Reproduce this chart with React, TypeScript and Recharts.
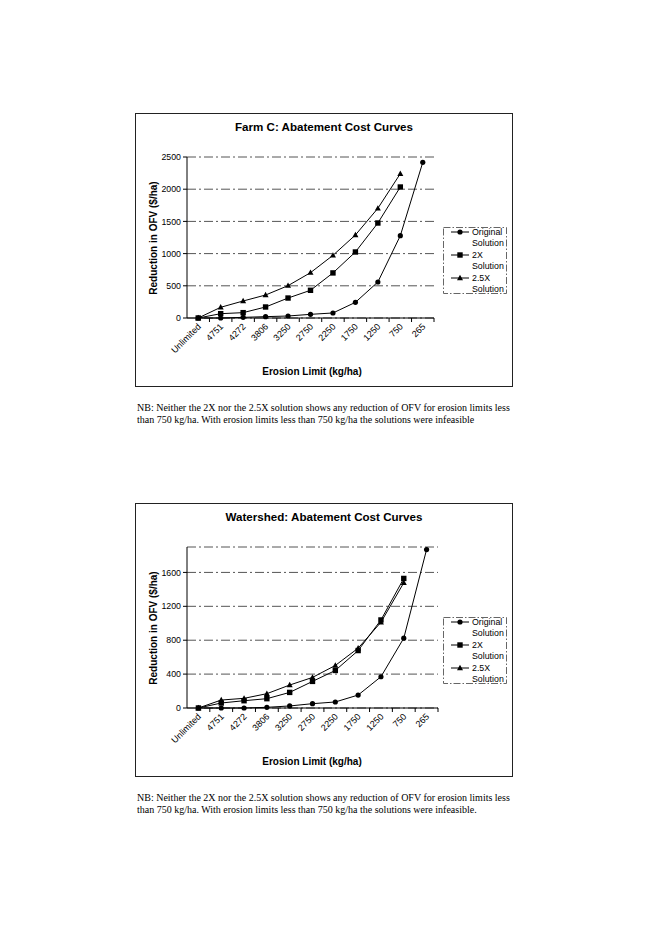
import React from "react";
import { CartesianGrid, Line, LineChart, XAxis, YAxis } from "recharts";

// erosion limit categories (kg/ha), shared by both charts
const limits = ["Unlimited", "4751", "4272", "3806", "3250", "2750", "2250", "1750", "1250", "750", "265"];

// Farm C
const farmOriginal = [0, 0, 10, 21, 31, 57, 78, 243, 559, 1278, 2417];
const farm2x = [0, 67, 83, 171, 310, 430, 700, 1025, 1475, 2034, null];
const farm25x = [0, 166, 264, 357, 502, 704, 973, 1289, 1703, 2241, null];
const farmTicks = [0, 500, 1000, 1500, 2000, 2500];

// Watershed
const shedOriginal = [0, 0, 0, 8, 24, 51, 71, 153, 369, 824, 1870];
const shed2x = [0, 59, 86, 110, 184, 314, 443, 678, 1039, 1529, null];
const shed25x = [0, 94, 114, 169, 271, 361, 502, 706, 1012, 1478, null];
const shedTicks = [0, 400, 800, 1200, 1600];

const legendLabels = [
  ["Original", "Solution"],
  ["2X", "Solution"],
  ["2.5X", "Solution"],
];

const SANS = "'Liberation Sans', Arial, sans-serif";
const SERIF = "'Liberation Serif', 'Times New Roman', serif";

type Series = (number | null)[];

function buildRows(orig: Series, x2: Series, x25: Series) {
  return limits.map((limit, i) => ({ limit, orig: orig[i], x2: x2[i], x25: x25[i] }));
}

function CircleDot(props: any) {
  const { cx, cy, index } = props;
  if (cx == null || cy == null) return <g key={`c-${index}`} />;
  return <circle key={`c-${index}`} cx={cx} cy={cy} r={2.6} fill="#000" />;
}

function SquareDot(props: any) {
  const { cx, cy, index } = props;
  if (cx == null || cy == null) return <g key={`s-${index}`} />;
  return <rect key={`s-${index}`} x={cx - 2.7} y={cy - 2.7} width={5.4} height={5.4} fill="#000" />;
}

function TriangleDot(props: any) {
  const { cx, cy, index } = props;
  if (cx == null || cy == null) return <g key={`t-${index}`} />;
  return (
    <polygon
      key={`t-${index}`}
      points={`${cx},${cy - 3.2} ${cx + 3},${cy + 2.2} ${cx - 3},${cy + 2.2}`}
      fill="#000"
    />
  );
}

function CategoryTick(props: any) {
  const { x, y, payload } = props;
  const half = payload?.offset ?? 11;
  return (
    <g>
      <line x1={x + half} x2={x + half} y1={y} y2={y + 4} stroke="#000" strokeWidth={1} />
      <text
        transform={`translate(${x + 1},${y + 7}) rotate(-45)`}
        textAnchor="end"
        dy="0.35em"
        fontSize={9}
        fontFamily={SANS}
        fill="#000"
      >
        {payload.value}
      </text>
    </g>
  );
}

function LegendBox() {
  const markers = [
    <circle cx={17} cy={0} r={2.6} fill="#000" />,
    <rect x={14.3} y={-2.7} width={5.4} height={5.4} fill="#000" />,
    <polygon points="17,-3.2 20,2.2 14,2.2" fill="#000" />,
  ];
  return (
    <svg
      width={64}
      height={67}
      style={{ position: "absolute", left: 307, top: 113, overflow: "visible" }}
    >
      <rect
        x={0.5}
        y={0.5}
        width={63}
        height={66}
        fill="none"
        stroke="#666"
        strokeDasharray="7 2 1.5 2"
      />
      {legendLabels.map((lines, i) => (
        <g key={lines[0]} transform={`translate(0,${5 + i * 23})`}>
          <line x1={8} x2={26} y1={0} y2={0} stroke="#000" />
          {markers[i]}
          <text x={29} y={0} dy="0.35em" fontSize={8.8} fontFamily={SANS} fill="#000">
            {lines[0]}
          </text>
          <text x={29} y={11} dy="0.35em" fontSize={8.8} fontFamily={SANS} fill="#000">
            {lines[1]}
          </text>
        </g>
      ))}
    </svg>
  );
}

interface PanelProps {
  title: string;
  top: number;
  rows: ReturnType<typeof buildRows>;
  ticks: number[];
  yMax: number;
  rightGap: number;
  note: string[];
}

function Panel({ title, top, rows, ticks, yMax, rightGap, note }: PanelProps) {
  return (
    <>
      <div
        style={{
          position: "absolute",
          left: 135,
          top,
          width: 378,
          height: 274,
          border: "1px solid #222",
          boxSizing: "border-box",
        }}
      >
        <div
          style={{
            position: "absolute",
            left: 0,
            width: 376,
            top: 6,
            textAlign: "center",
            fontFamily: SANS,
            fontWeight: "bold",
            fontSize: 11.6,
          }}
        >
          {title}
        </div>
        <div style={{ position: "absolute", left: 17, top: 124, width: 0, height: 0 }}>
          <div
            style={{
              position: "absolute",
              transform: "translate(-50%,-50%) rotate(-90deg)",
              whiteSpace: "nowrap",
              fontFamily: SANS,
              fontWeight: "bold",
              fontSize: 10,
            }}
          >
            Reduction in OFV ($/ha)
          </div>
        </div>
        <div
          style={{
            position: "absolute",
            left: 176,
            top: 252,
            transform: "translateX(-50%)",
            whiteSpace: "nowrap",
            fontFamily: SANS,
            fontWeight: "bold",
            fontSize: 10,
          }}
        >
          Erosion Limit (kg/ha)
        </div>
        <div style={{ position: "absolute", left: -1, top: -1 }}>
          <LineChart
            width={378}
            height={274}
            data={rows}
            margin={{ top: 44, right: rightGap, left: 0, bottom: 0 }}
          >
            <CartesianGrid horizontal vertical={false} stroke="#555" strokeDasharray="9 3 2 3" />
            <XAxis
              dataKey="limit"
              scale="band"
              interval={0}
              height={69}
              tickSize={0}
              tickMargin={0}
              axisLine={{ stroke: "#000" }}
              tick={<CategoryTick />}
            />
            <XAxis
              xAxisId="top"
              orientation="top"
              dataKey="limit"
              scale="band"
              height={0}
              tick={false}
              tickLine={false}
              axisLine={{ stroke: "#888", strokeDasharray: "4 3" }}
            />
            <YAxis
              domain={[0, yMax]}
              ticks={ticks}
              width={52}
              tickSize={4}
              tickMargin={2}
              interval={0}
              axisLine={{ stroke: "#000" }}
              tickLine={{ stroke: "#000" }}
              tick={{ fontSize: 8.8, fontFamily: SANS, fill: "#000" }}
            />
            <YAxis
              yAxisId="right"
              orientation="right"
              width={0}
              tick={false}
              tickLine={false}
              axisLine={{ stroke: "#888", strokeDasharray: "4 3" }}
            />
            <Line
              type="linear"
              dataKey="orig"
              stroke="#000"
              strokeWidth={1}
              dot={<CircleDot />}
              activeDot={false}
              isAnimationActive={false}
            />
            <Line
              type="linear"
              dataKey="x2"
              stroke="#000"
              strokeWidth={1}
              dot={<SquareDot />}
              activeDot={false}
              isAnimationActive={false}
            />
            <Line
              type="linear"
              dataKey="x25"
              stroke="#000"
              strokeWidth={1}
              dot={<TriangleDot />}
              activeDot={false}
              isAnimationActive={false}
            />
          </LineChart>
        </div>
        <LegendBox />
      </div>
      <div
        style={{
          position: "absolute",
          left: 137,
          top: top + 289,
          fontFamily: SERIF,
          fontSize: 10,
          lineHeight: "11.5px",
          whiteSpace: "nowrap",
          color: "#000",
        }}
      >
        {note[0]}
        <br />
        {note[1]}
      </div>
    </>
  );
}

export default function App() {
  return (
    <div
      style={{
        position: "absolute",
        left: 0,
        top: 0,
        width: 648,
        height: 936,
        background: "#fff",
      }}
    >
      <Panel
        title="Farm C: Abatement Cost Curves"
        top={113}
        rows={buildRows(farmOriginal, farm2x, farm25x)}
        ticks={farmTicks}
        yMax={2500}
        rightGap={79}
        note={[
          "NB: Neither the 2X nor the 2.5X solution shows any reduction of OFV for erosion limits less",
          "than 750 kg/ha. With erosion limits less than 750 kg/ha the solutions were infeasible",
        ]}
      />
      <Panel
        title="Watershed: Abatement Cost Curves"
        top={503}
        rows={buildRows(shedOriginal, shed2x, shed25x)}
        ticks={shedTicks}
        yMax={1900}
        rightGap={75}
        note={[
          "NB: Neither the 2X nor the 2.5X solution shows any reduction of OFV for erosion limits less",
          "than 750 kg/ha. With erosion limits less than 750 kg/ha the solutions were infeasible.",
        ]}
      />
    </div>
  );
}
